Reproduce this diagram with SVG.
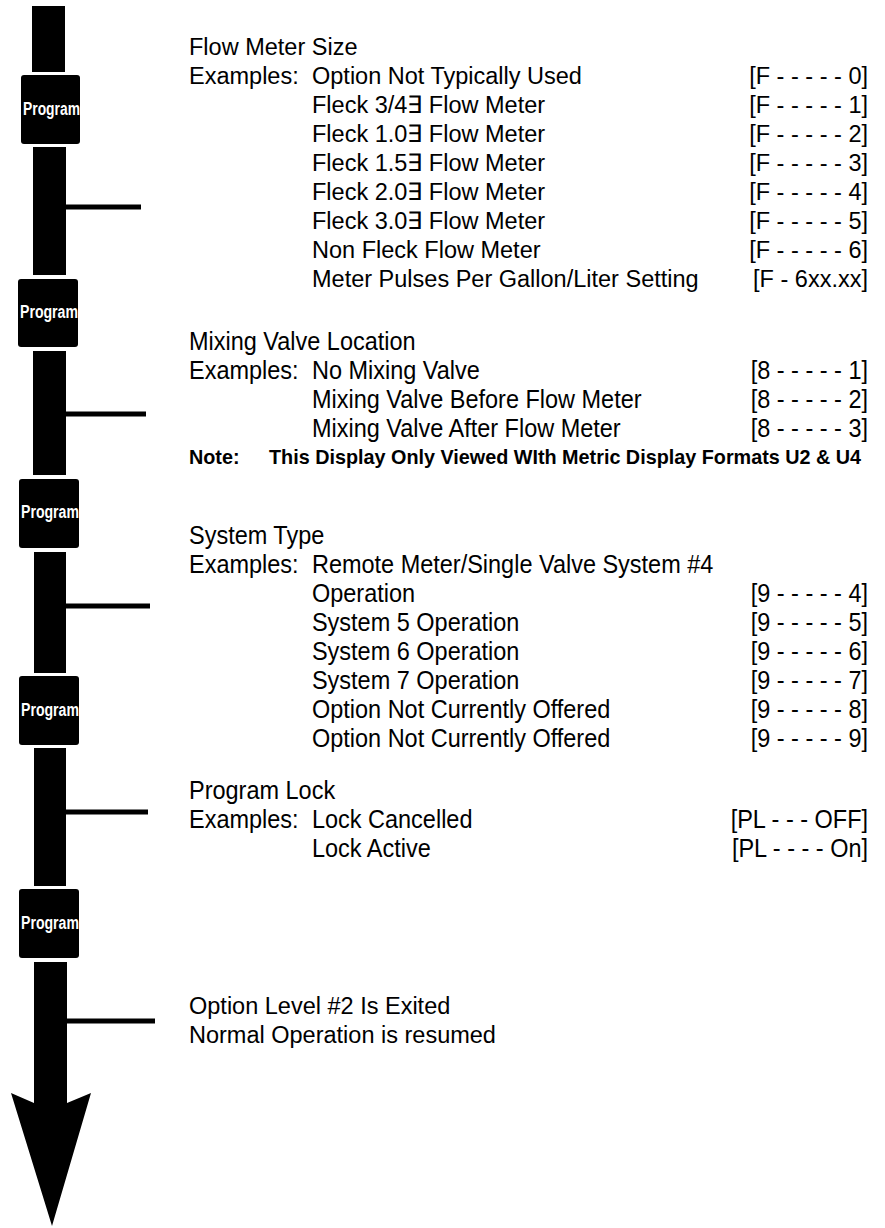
<svg xmlns="http://www.w3.org/2000/svg" width="885" height="1228" viewBox="0 0 885 1228">
<style>
.bar{fill:#000}
.box{fill:#000}
.pt{fill:#fff;font-family:"Liberation Sans","Arial",sans-serif;font-weight:bold;font-size:18px}
.t{fill:#000;font-family:"Liberation Sans","Arial",sans-serif;font-size:23.5px}
.c{fill:#000;font-family:"Liberation Sans","Arial",sans-serif;font-size:26.7px}
.r{text-anchor:end}
.nb{fill:#000;font-family:"Liberation Sans","Arial",sans-serif;font-size:19.8px;font-weight:bold}
</style>
<rect width="885" height="1228" fill="#fff"/>
<g id="connectors">
<rect class="bar" x="32" y="6" width="33" height="66"/>
<rect class="bar" x="33" y="147" width="33" height="128"/>
<rect class="bar" x="33" y="351" width="33" height="124"/>
<rect class="bar" x="34" y="552" width="32" height="121"/>
<rect class="bar" x="34" y="748" width="32" height="138"/>
<rect class="bar" x="34" y="962" width="33" height="142"/>
<polygon class="bar" points="11,1093 34,1103 67,1103 91,1093 52,1226"/>
<rect class="bar" x="65" y="204.5" width="76" height="5"/>
<rect class="bar" x="66" y="411.5" width="80" height="5"/>
<rect class="bar" x="66" y="603.5" width="84" height="5"/>
<rect class="bar" x="66" y="809.5" width="82" height="5"/>
<rect class="bar" x="67" y="1018.5" width="88" height="5"/>
</g>
<g id="program1"><rect class="box" x="21" y="75" width="59" height="69" rx="3"/><text class="pt" x="23" y="115" textLength="57" lengthAdjust="spacingAndGlyphs">Program</text></g>
<g id="program2"><rect class="box" x="18" y="279" width="60" height="68" rx="3"/><text class="pt" x="20" y="318" textLength="58" lengthAdjust="spacingAndGlyphs">Program</text></g>
<g id="program3"><rect class="box" x="19" y="479" width="60" height="69" rx="3"/><text class="pt" x="21" y="518" textLength="58" lengthAdjust="spacingAndGlyphs">Program</text></g>
<g id="program4"><rect class="box" x="19" y="676" width="60" height="69" rx="3"/><text class="pt" x="21" y="716" textLength="58" lengthAdjust="spacingAndGlyphs">Program</text></g>
<g id="program5"><rect class="box" x="19" y="889" width="60" height="69" rx="3"/><text class="pt" x="21" y="929" textLength="58" lengthAdjust="spacingAndGlyphs">Program</text></g>
<g id="flow-meter-size">
<text class="t" x="189" y="55">Flow Meter Size</text>
<text class="t" x="189" y="84">Examples:</text>
<text class="t" x="312" y="84">Option Not Typically Used</text>
<text class="t" x="312" y="113">Fleck 3/4∃ Flow Meter</text>
<text class="t" x="312" y="142">Fleck 1.0∃ Flow Meter</text>
<text class="t" x="312" y="171">Fleck 1.5∃ Flow Meter</text>
<text class="t" x="312" y="200">Fleck 2.0∃ Flow Meter</text>
<text class="t" x="312" y="229">Fleck 3.0∃ Flow Meter</text>
<text class="t" x="312" y="258">Non Fleck Flow Meter</text>
<text class="t" x="312" y="287">Meter Pulses Per Gallon/Liter Setting</text>
<text class="t r" x="868" y="84">[F - - - - - 0]</text>
<text class="t r" x="868" y="113">[F - - - - - 1]</text>
<text class="t r" x="868" y="142">[F - - - - - 2]</text>
<text class="t r" x="868" y="171">[F - - - - - 3]</text>
<text class="t r" x="868" y="200">[F - - - - - 4]</text>
<text class="t r" x="868" y="229">[F - - - - - 5]</text>
<text class="t r" x="868" y="258">[F - - - - - 6]</text>
<text class="t r" x="868" y="287">[F - 6xx.xx]</text>
</g>
<g id="mixing-valve-location">
<g transform="scale(0.88,1)">
<text class="c" x="214.8" y="350">Mixing Valve Location</text>
<text class="c" x="214.8" y="379">Examples:</text>
<text class="c" x="354.5" y="379">No Mixing Valve</text>
<text class="c" x="354.5" y="408">Mixing Valve Before Flow Meter</text>
<text class="c" x="354.5" y="437">Mixing Valve After Flow Meter</text>
<text class="c r" x="986.4" y="379">[8 - - - - - 1]</text>
<text class="c r" x="986.4" y="408">[8 - - - - - 2]</text>
<text class="c r" x="986.4" y="437">[8 - - - - - 3]</text>
</g>
<text class="nb" x="189" y="464">Note:</text>
<text class="nb" x="269" y="464">This Display Only Viewed WIth Metric Display Formats U2 &amp; U4</text>
</g>
<g id="system-type">
<g transform="scale(0.88,1)">
<text class="c" x="214.8" y="544">System Type</text>
<text class="c" x="214.8" y="573">Examples:</text>
<text class="c" x="354.5" y="573">Remote Meter/Single Valve System #4</text>
<text class="c" x="354.5" y="602">Operation</text>
<text class="c" x="354.5" y="631">System 5 Operation</text>
<text class="c" x="354.5" y="660">System 6 Operation</text>
<text class="c" x="354.5" y="689">System 7 Operation</text>
<text class="c" x="354.5" y="718">Option Not Currently Offered</text>
<text class="c" x="354.5" y="747">Option Not Currently Offered</text>
<text class="c r" x="986.4" y="602">[9 - - - - - 4]</text>
<text class="c r" x="986.4" y="631">[9 - - - - - 5]</text>
<text class="c r" x="986.4" y="660">[9 - - - - - 6]</text>
<text class="c r" x="986.4" y="689">[9 - - - - - 7]</text>
<text class="c r" x="986.4" y="718">[9 - - - - - 8]</text>
<text class="c r" x="986.4" y="747">[9 - - - - - 9]</text>
</g>
</g>
<g id="program-lock">
<g transform="scale(0.88,1)">
<text class="c" x="214.8" y="799">Program Lock</text>
<text class="c" x="214.8" y="828">Examples:</text>
<text class="c" x="354.5" y="828">Lock Cancelled</text>
<text class="c" x="354.5" y="857">Lock Active</text>
<text class="c r" x="986.4" y="828">[PL - - - OFF]</text>
<text class="c r" x="986.4" y="857">[PL - - - - On]</text>
</g>
</g>
<g id="exit">
<text class="t" x="189" y="1014">Option Level #2 Is Exited</text>
<text class="t" x="189" y="1043">Normal Operation is resumed</text>
</g>
</svg>
